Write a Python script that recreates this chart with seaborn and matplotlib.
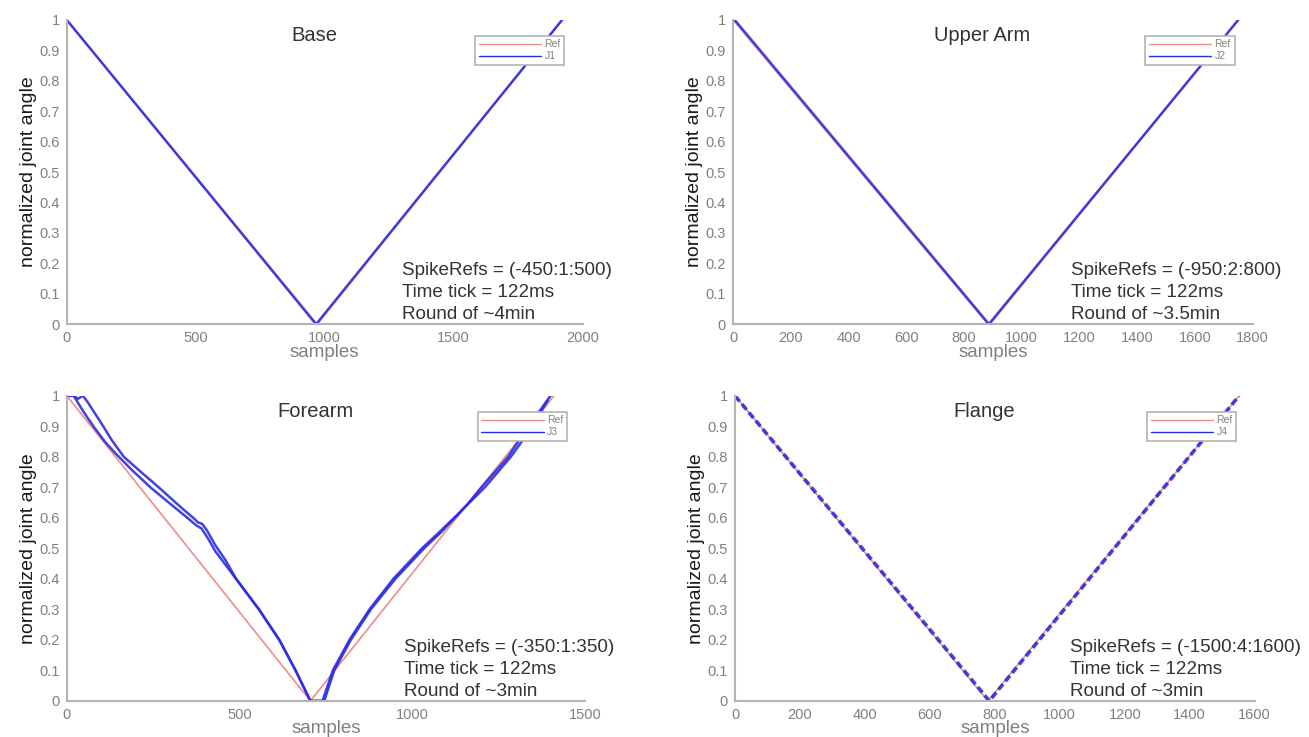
import numpy as np
import pandas as pd
import seaborn as sns
import matplotlib.pyplot as plt

# Base (J1)
base_ref_x = [0, 964, 1921]
base_ref_y = [1, 0, 1]
base_j1_x = [0, 968, 1921]
base_j1_y = [1, 0, 1]

# Upper Arm (J2)
upper_ref_x = [0, 883, 1750]
upper_ref_y = [1, 0, 1]
upper_j2_x = [0, 10, 887, 1750]
upper_j2_y = [1, 0.995, 0, 1]

# Forearm (J3) - two passes of the joint
fore_ref_x = [0, 705, 1410]
fore_ref_y = [1, 0, 1]
fore_j3a_x = [0, 20, 32, 47, 60, 80, 100, 130, 165, 215, 266, 310, 340, 366, 380, 392, 405,
              430, 460, 490, 556, 615, 662, 705, 745,
              774, 822, 880, 951, 1034, 1085, 1123, 1160, 1200, 1277, 1336, 1400]
fore_j3a_y = [1, 1, 0.99, 1, 0.98, 0.945, 0.91, 0.855, 0.80, 0.75, 0.70, 0.655, 0.625, 0.60, 0.585,
              0.58, 0.56, 0.51, 0.46, 0.40, 0.30, 0.20, 0.10, 0, 0,
              0.10, 0.20, 0.30, 0.40, 0.50, 0.555, 0.60, 0.645, 0.70, 0.80, 0.90, 1.0]
fore_j3b_x = [0, 20, 50, 77, 110, 142, 190, 242, 295, 349, 375, 390, 410, 430, 490, 556, 615, 662,
              705, 740, 770, 818, 876, 945, 1028, 1080, 1130, 1210, 1285, 1342, 1392]
fore_j3b_y = [1, 1, 0.945, 0.90, 0.85, 0.81, 0.755, 0.70, 0.65, 0.60, 0.575, 0.565, 0.53, 0.49,
              0.40, 0.30, 0.20, 0.10, 0, 0, 0.10, 0.20, 0.30, 0.40, 0.50, 0.555, 0.61, 0.70,
              0.80, 0.89, 0.985]

# Flange (J4)
flange_ref_x = [0, 779, 1552]
flange_ref_y = [1, 0, 1]
flange_j4_x = [0, 783, 1552]
flange_j4_y = [1, 0, 1]

titles = ["Base", "Upper Arm", "Forearm", "Flange"]
joint_names = ["J1", "J2", "J3", "J4"]
x_max = [2000, 1800, 1500, 1600]
x_step = [500, 200, 500, 200]
notes = [
    "SpikeRefs = (-450:1:500)\nTime tick = 122ms\nRound of ~4min",
    "SpikeRefs = (-950:2:800)\nTime tick = 122ms\nRound of ~3.5min",
    "SpikeRefs = (-350:1:350)\nTime tick = 122ms\nRound of ~3min",
    "SpikeRefs = (-1500:4:1600)\nTime tick = 122ms\nRound of ~3min",
]

REF_COLOR = "#f08c8c"
J_COLOR = "#2d2de0"
GREY = "#b4b4b4"
TICK_GREY = "#808080"

sns.set_style("white")
plt.rcParams['font.family'] = ['Liberation Sans', 'DejaVu Sans']

fig = plt.figure(figsize=(13.09, 7.37), dpi=100)
positions = [
    [0.051, 0.560, 0.394, 0.413],
    [0.560, 0.560, 0.397, 0.413],
    [0.051, 0.049, 0.396, 0.414],
    [0.5615, 0.049, 0.397, 0.414],
]
axes = [fig.add_axes(p) for p in positions]

refs = [(base_ref_x, base_ref_y), (upper_ref_x, upper_ref_y),
        (fore_ref_x, fore_ref_y), (flange_ref_x, flange_ref_y)]
joints = [[(base_j1_x, base_j1_y)], [(upper_j2_x, upper_j2_y)],
          [(fore_j3a_x, fore_j3a_y), (fore_j3b_x, fore_j3b_y)],
          [(flange_j4_x, flange_j4_y)]]

for i, ax in enumerate(axes):
    rx, ry = refs[i]
    sns.lineplot(x=rx, y=ry, ax=ax, color=REF_COLOR, linewidth=1.2,
                 sort=False, estimator=None)
    for jx, jy in joints[i]:
        if i == 3:
            sns.lineplot(x=jx, y=jy, ax=ax, color=J_COLOR, linewidth=2.6, alpha=0.9,
                         linestyle=(0, (2, 1)), sort=False, estimator=None)
        else:
            sns.lineplot(x=jx, y=jy, ax=ax, color=J_COLOR, linewidth=1.8, alpha=0.9,
                         sort=False, estimator=None)

    ax.set_xlim(0, x_max[i])
    ax.set_ylim(0, 1)
    ax.set_xticks(np.arange(0, x_max[i] + 1, x_step[i]))
    ax.set_yticks(np.round(np.arange(0, 1.01, 0.1), 1))
    ax.set_yticklabels(["0"] + [f"{v:.1f}" for v in np.arange(0.1, 0.95, 0.1)] + ["1"])
    ax.tick_params(direction='in', length=4, width=1, color=GREY, labelcolor=TICK_GREY,
                   labelsize=10.5, pad=5)
    for side in ["top", "right"]:
        ax.spines[side].set_visible(False)
    for side in ["left", "bottom"]:
        ax.spines[side].set_color(GREY)
        ax.spines[side].set_linewidth(1.5)

    ax.set_xlabel("samples", fontsize=13.5, color=TICK_GREY, labelpad=-1)
    ax.set_ylabel("normalized joint angle", fontsize=14, color="#1a1a1a", labelpad=2)
    ax.text(0.48, 0.95, titles[i], transform=ax.transAxes, ha='center', va='center',
            fontsize=14.5, color="#333333")
    ax.text(0.645 if i == 3 else 0.65, 0.004, notes[i], transform=ax.transAxes,
            ha='left', va='bottom', fontsize=13.6, color="#333333", linespacing=1.38)

    handles = [plt.Line2D([], [], color=REF_COLOR, linewidth=1),
               plt.Line2D([], [], color=J_COLOR, linewidth=1)]
    leg = ax.legend(handles, ["Ref", joint_names[i]], loc='upper right',
                    bbox_to_anchor=(0.975, 0.965), fontsize=7.5, handlelength=6,
                    handletextpad=0.3, borderpad=0.35, labelspacing=0.2,
                    fancybox=False, framealpha=1, edgecolor=GREY)
    leg.get_frame().set_linewidth(1.2)
    for t in leg.get_texts():
        t.set_color(TICK_GREY)

fig.savefig("out.png", dpi=100)
